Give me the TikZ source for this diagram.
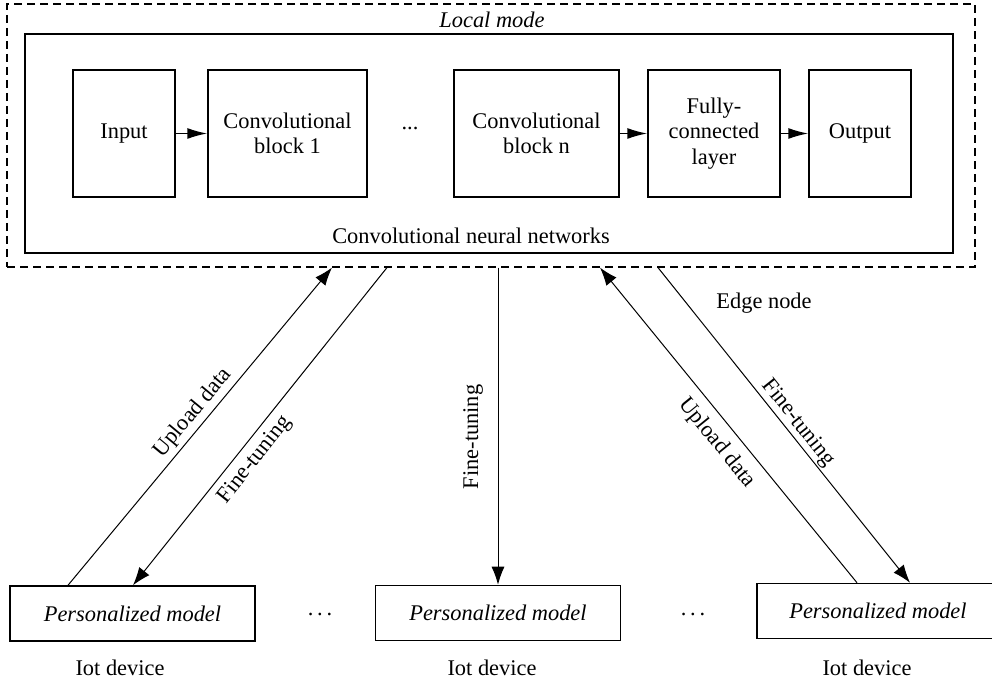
\documentclass[tikz,border=0pt]{standalone}
\usepackage{fontspec}
\setmainfont{Liberation Serif}
\usetikzlibrary{arrows.meta}
\begin{document}
\begin{tikzpicture}[x=0.5pt,y=-0.5pt,
 font=\fontsize{11.2}{12.6}\selectfont,
 blk/.style={draw, line width=0.75pt, rectangle, inner sep=0, align=center, minimum height=63.5pt},
 pm/.style={draw, line width=0.75pt, inner sep=0, minimum width=122.5pt, minimum height=27.5pt, font=\fontsize{11.2}{12.6}\selectfont\itshape},
 harr/.style={-{Latex[length=10pt,width=5.5pt]}, line width=0.75pt},
 darr/.style={-{Latex[length=9pt,width=6.5pt]}, line width=0.5pt},
 lbl/.style={inner sep=0}
]
\useasboundingbox (0,0) rectangle (992,684);
\clip (0,0) rectangle (992,684);
\fill[white] (0,0) rectangle (992,684);
% outer dashed and inner boxes
\node[draw, dash pattern=on 4pt off 2.5pt, line width=0.6pt, minimum width=484pt, minimum height=131.5pt, inner sep=0] (local) at (491,135.5) {};
\node[draw, line width=0.75pt, minimum width=464pt, minimum height=109.5pt, inner sep=0] (cnn) at (489,143.5) {};
\node[lbl, font=\fontsize{11.2}{12.6}\selectfont\itshape] (localt) at (492,20) {Local mode};
\node[lbl] (cnnt) at (471,236) {Convolutional neural networks};
% CNN blocks
\node[blk, minimum width=51pt] (in) at (124,133.5) {Input};
\node[blk, minimum width=79.5pt] (c1) at (287.5,133.5) {Convolutional\\block 1};
\node[lbl] (dots) at (410,128) {...};
\node[blk, minimum width=82.5pt] (cn) at (536.5,133.5) {Convolutional\\block n};
\node[blk, minimum width=66pt] (fc) at (714,133.5) {Fully-\\connected\\layer};
\node[blk, minimum width=51pt] (out) at (860,133.5) {Output};
\draw[harr] (in) -- (c1);
\draw[harr] (cn) -- (fc);
\draw[harr] (fc) -- (out);
% bottom devices
\node[pm] (b1) at (132.5,613.5) {Personalized model};
\node[pm] (b2) at (498,613) {Personalized model};
\node[pm, minimum width=121pt] (b3) at (878,611) {Personalized model};
\node[lbl] (d1) at (120,668) {Iot device};
\node[lbl] (d2) at (492,668) {Iot device};
\node[lbl] (d3) at (867,668) {Iot device};
\node[lbl] (bd1) at (320,614) {.\,.\,.};
\node[lbl] (bd2) at (693,614) {.\,.\,.};
\node[lbl] (edge) at (764,303) {Edge node};
% connectors
\draw[darr] (b1.north -| 68,0) -- (local.south -| 332,0);
\draw[darr] (local.south -| 387,0) -- (b1.north -| 133,0);
\draw[darr] (local.south -| 498,0) -- (b2.north -| 498,0);
\draw[darr] (b3.north -| 857,0) -- (local.south -| 600,0);
\draw[darr] (local.south -| 658,0) -- (b3.north -| 910,0);
% connector labels
\node[lbl, rotate=50.4] (l1) at (193,413) {Upload data};
\node[lbl, rotate=51.5] (l2) at (255,460) {Fine-tuning};
\node[lbl, rotate=90] (l3) at (473,437) {Fine-tuning};
\node[lbl, rotate=-50.9] (l4) at (717,443) {Upload data};
\node[lbl, rotate=-51.4] (l5) at (798,423) {Fine-tuning};
\end{tikzpicture}
\end{document}
